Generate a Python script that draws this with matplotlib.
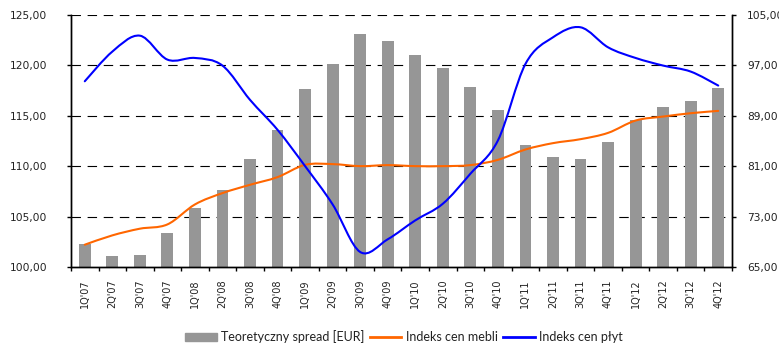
import numpy as np
import matplotlib
matplotlib.use("Agg")
import matplotlib.pyplot as plt
from matplotlib.path import Path
from matplotlib.patches import PathPatch, Rectangle
from matplotlib.lines import Line2D
from matplotlib.ticker import FixedLocator, FuncFormatter

categories = ["1Q'07", "2Q'07", "3Q'07", "4Q'07", "1Q'08", "2Q'08", "3Q'08", "4Q'08",
              "1Q'09", "2Q'09", "3Q'09", "4Q'09", "1Q'10", "2Q'10", "3Q'10", "4Q'10",
              "1Q'11", "2Q'11", "3Q'11", "4Q'11", "1Q'12", "2Q'12", "3Q'12", "4Q'12"]

spread = [102.31, 101.06, 101.16, 103.34, 105.81, 107.60, 110.67, 113.64,
          117.70, 120.18, 123.15, 122.46, 121.07, 119.78, 117.90, 115.62,
          112.15, 110.87, 110.67, 112.45, 114.63, 115.92, 116.51, 117.80]

meble = [68.54, 70.02, 71.08, 71.76, 74.93, 76.73, 78.05, 79.27,
         81.22, 81.33, 81.01, 81.17, 81.01, 81.01, 81.17, 82.01,
         83.65, 84.66, 85.29, 86.29, 88.25, 88.88, 89.41, 89.78]

plyty = [94.48, 99.19, 101.72, 97.92, 98.18, 96.97, 91.53, 86.77,
         81.01, 74.93, 67.38, 69.40, 72.40, 75.04, 79.80, 85.08,
         97.23, 101.46, 103.05, 99.87, 98.18, 96.97, 96.02, 93.80]

left_ticks = [100, 105, 110, 115, 120, 125]
right_ticks = [65, 73, 81, 89, 97, 105]

legend_labels = ["Teoretyczny spread [EUR]", "Indeks cen mebli", "Indeks cen płyt"]

BAR_COLOR = "#969696"
ORANGE = "#FF6600"
BLUE = "#0000FF"


def smooth_path(xs, ys):
    pts = np.column_stack([xs, ys]).astype(float)
    n = len(pts)
    verts = [pts[0]]
    codes = [Path.MOVETO]
    for i in range(n - 1):
        p0 = pts[i - 1] if i > 0 else pts[i]
        p1 = pts[i]
        p2 = pts[i + 1]
        p3 = pts[i + 2] if i + 2 < n else pts[i + 1]
        c1 = p1 + (p2 - p0) / 6.0
        c2 = p2 - (p3 - p1) / 6.0
        verts += [c1, c2, p2]
        codes += [Path.CURVE4] * 3
    return Path(verts, codes)


fig = plt.figure(figsize=(7.79, 3.45), dpi=100)
ax = fig.add_axes([71 / 779, 1 - 267 / 345, (732 - 71) / 779, (267 - 15) / 345])
ax2 = ax.twinx()

x = np.arange(len(categories))
ax.bar(x, [v - left_ticks[0] for v in spread], bottom=left_ticks[0], width=0.43,
       color=BAR_COLOR, zorder=2)

ax.set_xlim(-0.5, len(categories) - 0.5)
ax.set_ylim(left_ticks[0], left_ticks[-1])
ax2.set_ylim(right_ticks[0], right_ticks[-1])

# gridlines
for t in left_ticks[1:]:
    ax.axhline(t, color="black", lw=0.8, linestyle=(0, (8.5, 6.0)), zorder=1)

ax2.add_patch(PathPatch(smooth_path(x, meble), fill=False, edgecolor=ORANGE, lw=1.5,
                        capstyle="round", joinstyle="round", zorder=3))
ax2.add_patch(PathPatch(smooth_path(x, plyty), fill=False, edgecolor=BLUE, lw=1.5,
                        capstyle="round", joinstyle="round", zorder=4))

fmt = FuncFormatter(lambda v, p: f"{v:.2f}".replace(".", ","))
ax.yaxis.set_major_locator(FixedLocator(left_ticks))
ax.yaxis.set_major_formatter(fmt)
ax2.yaxis.set_major_locator(FixedLocator(right_ticks))
ax2.yaxis.set_major_formatter(fmt)

ax.tick_params(axis="y", direction="out", length=3, width=1, pad=14, labelsize=7.7,
               colors="black", labelcolor="#222222")
ax2.tick_params(axis="y", direction="out", length=3, width=1, pad=8, labelsize=7.7,
                colors="black", labelcolor="#222222")

ax.set_xticks(x)
ax.set_xticklabels(categories, rotation=90, fontsize=7, color="#222222")
ax.tick_params(axis="x", which="major", length=0, pad=9)
ax.set_xticks(np.arange(-0.5, len(categories), 1.0), minor=True)
ax.tick_params(axis="x", which="minor", direction="out", length=3, width=1, color="black")

for a in (ax, ax2):
    a.spines["top"].set_visible(False)
    for s in ("left", "right", "bottom"):
        a.spines[s].set_linewidth(1)
        a.spines[s].set_color("black")

ax.set_zorder(ax2.get_zorder() - 1)
ax2.patch.set_visible(False)

handles = [Rectangle((0, 0), 1, 1, color=BAR_COLOR),
           Line2D([], [], color=ORANGE, lw=2),
           Line2D([], [], color=BLUE, lw=2)]
fig.legend(handles, legend_labels, loc="center", bbox_to_anchor=(404 / 779, 1 - 337 / 345),
           ncol=3, frameon=False, handlelength=2.5, handleheight=0.6, handletextpad=0.35,
           columnspacing=0.45, prop={"family": ["Lato", "DejaVu Sans"], "size": 9},
           labelcolor="#222222")

fig.savefig("out.png", dpi=100)
